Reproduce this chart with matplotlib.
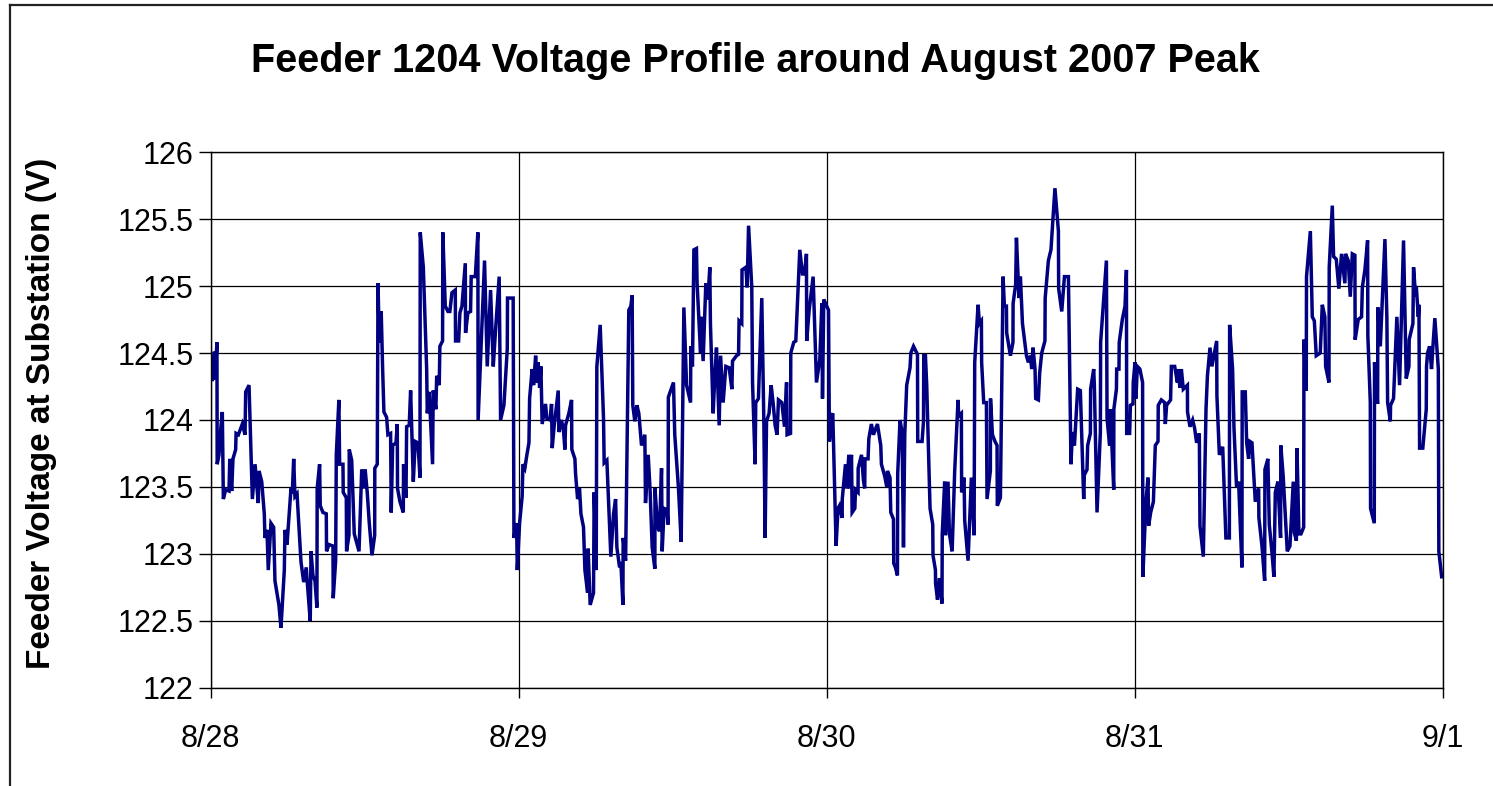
import matplotlib
matplotlib.use("Agg")
import matplotlib.pyplot as plt
from matplotlib.lines import Line2D

# hours since 8/28 00:00 and substation voltage (V)
hours = [
    0.0, 0.14, 0.3, 0.35, 0.5, 0.52, 0.66, 0.82, 0.92, 1.0, 1.18, 1.44, 1.5, 1.65, 1.75, 1.96, 1.99,
    2.17, 2.48, 2.69, 2.74, 2.9, 3.0, 3.26, 3.47, 3.72, 3.78, 3.99, 4.19, 4.24, 4.4, 4.5, 4.71, 4.92,
    5.02, 5.23, 5.33, 5.49, 5.75, 5.8, 5.96, 6.27, 6.37, 6.48, 6.58, 6.74, 7.05, 7.26, 7.46, 7.57,
    7.77, 7.83, 7.98, 8.14, 8.29, 8.31, 8.5, 8.55, 8.76, 9.02, 9.04, 9.23, 9.54, 9.56, 9.75, 9.8,
    10.0, 10.06, 10.32, 10.34, 10.58, 10.6, 10.79, 10.81, 11.0, 11.2, 11.57, 11.78, 11.98,
    12.05, 12.21, 12.37, 12.58, 12.79, 12.8, 12.99, 13.05, 13.15, 13.3, 13.41, 13.51, 13.72, 13.82,
    14.03, 14.08, 14.19, 14.45, 14.55, 14.57, 14.76, 15.02, 15.04, 15.23, 15.28, 15.48, 15.59, 15.8,
    15.95, 16.16, 16.32, 16.34, 16.58, 16.84, 16.89, 17.04, 17.3, 17.35, 17.56, 17.62, 17.82, 17.87,
    18.08, 18.1, 18.29, 18.5, 18.65, 18.81, 19.07, 19.09, 19.33, 19.43, 19.59, 19.85, 19.87, 20.05,
    20.26, 20.31, 20.63, 20.83, 20.85, 21.09, 21.35, 21.56, 21.82, 22.03, 22.18, 22.49, 22.6, 22.86,
    23.12, 23.14, 23.58, 23.64, 23.85, 23.9,
    24.08, 24.28, 24.34, 24.49, 24.65, 24.81, 24.86, 25.06, 25.17, 25.33, 25.43, 25.53, 25.64, 25.74,
    25.84, 26.1, 26.21, 26.46, 26.57, 26.62, 26.78, 27.09, 27.14, 27.35, 27.51, 27.61, 27.66, 27.92,
    28.13, 28.15, 28.39, 28.44, 28.6, 28.75, 28.86, 29.06, 29.17, 29.38, 29.42, 29.58, 29.84, 29.89,
    30.05, 30.1, 30.36, 30.62, 30.67, 30.88, 31.19, 31.4, 31.56, 31.66, 31.87, 31.97, 32.13, 32.15,
    32.34, 32.59, 32.75, 32.85, 32.9, 33.06, 33.22, 33.37, 33.58, 33.84, 33.89, 34.1, 34.25, 34.41,
    34.62, 34.63, 34.83, 34.98, 35.14, 35.19, 35.34, 35.55, 35.65, 35.67, 36.07,
    36.17, 36.46, 36.67, 36.88, 37.09, 37.4, 37.42, 37.55, 37.66, 37.86, 37.91, 38.18, 38.22, 38.38,
    38.59, 38.75, 38.9, 38.95, 39.16, 39.27, 39.42, 39.63, 39.74, 39.94, 40.15, 40.41, 40.62, 40.67,
    40.98, 41.14, 41.18, 41.39, 41.41, 41.71, 41.81, 41.92, 42.17, 42.23, 42.43, 42.48, 42.69, 42.74,
    42.95, 43.11, 43.21, 43.32, 43.52, 43.68, 43.83, 43.99, 44.14, 44.25, 44.51, 44.72, 44.88, 44.92,
    45.19, 45.21, 45.44, 45.6, 45.91, 46.12, 46.28, 46.43, 46.45, 46.64, 46.95, 47.21, 47.47, 47.63,
    47.68, 47.78, 48.15,
    48.22, 48.38, 48.48, 48.74, 48.89, 49.0, 49.21, 49.22, 49.47, 49.57, 49.73, 49.78, 49.94, 49.99,
    50.2, 50.25, 50.45, 50.46, 50.72, 50.87, 50.97, 50.99, 51.23, 51.29, 51.49, 51.65, 51.96, 52.22,
    52.27, 52.53, 52.69, 52.74, 52.94, 53.0, 53.21, 53.23, 53.36, 53.52, 53.54, 53.72, 53.88, 53.99,
    54.09, 54.24, 54.5, 54.56, 54.77, 55.08, 55.1, 55.44, 55.55, 55.57, 55.7, 55.8, 56.06, 56.27,
    56.29, 56.48, 56.49, 56.64, 56.79, 56.99, 57.01, 57.2, 57.26, 57.46, 57.57, 57.78, 57.98, 58.24,
    58.29, 58.5, 58.52, 58.71, 58.76, 59.02, 59.28, 59.49, 59.54, 59.8, 59.91, 60.06, 60.08,
    60.24, 60.45, 60.5, 60.76, 60.77, 60.92, 61.12, 61.28, 61.3, 61.54, 61.75, 61.85, 62.01, 62.03,
    62.32, 62.52, 62.53, 62.73, 62.79, 62.99, 63.1, 63.26, 63.57, 63.72, 63.88, 63.98, 64.08, 64.24,
    64.29, 64.5, 64.6, 64.76, 65.01, 65.03, 65.28, 65.48, 65.79, 66.06, 66.08, 66.32, 66.53, 66.84,
    67.04, 67.15, 67.31, 67.56, 67.77, 68.03, 68.08, 68.29, 68.34, 68.55, 68.57, 68.81, 68.86, 69.07,
    69.33, 69.35, 69.8, 69.85, 70.05, 70.11, 70.37, 70.38, 70.58, 70.6, 70.78, 70.8, 71.04, 71.25,
    71.36, 71.38, 71.61, 71.67, 71.87, 71.89, 72.03,
    72.1, 72.21, 72.41, 72.62, 72.64, 72.88, 73.04, 73.09, 73.25, 73.46, 73.61, 73.82, 73.84, 74.08,
    74.34, 74.39, 74.49, 74.8, 74.86, 75.12, 75.33, 75.37, 75.53, 75.64, 75.79, 76.11, 76.12, 76.31,
    76.52, 76.67, 76.83, 77.04, 77.09, 77.35, 77.56, 77.67, 77.87, 78.02, 78.39, 78.41, 78.6, 78.86,
    79.11, 79.38, 79.4, 79.63, 79.74, 79.94, 80.1, 80.36, 80.38, 80.62, 80.73, 80.88, 80.98, 81.14,
    81.4, 81.66, 81.68, 81.92, 82.13, 82.15, 82.38, 82.49, 82.7, 82.85, 82.96, 83.16, 83.37, 83.39,
    83.58, 83.89, 84.1, 84.36,
    84.44, 84.6, 84.65, 84.8, 84.96, 85.17, 85.19, 85.37, 85.39, 85.69, 85.84, 86.0, 86.15, 86.46,
    86.62, 86.82, 86.88, 87.14, 87.16, 87.4, 87.5, 87.71, 87.91, 88.12, 88.38, 88.43, 88.64, 88.8,
    88.96, 89.16, 89.18, 89.42, 89.68, 89.74, 89.94, 90.15, 90.17, 90.36, 90.38, 90.67, 90.69, 90.93,
    90.95, 91.14, 91.5, 91.65, 91.71, 91.92, 91.94, 92.17, 92.43, 92.64, 92.95, 93.16, 93.37, 93.39,
    93.68, 93.73, 93.89, 93.94, 94.1, 94.15, 94.2, 94.45, 94.72, 94.74, 94.82, 94.98, 95.13, 95.24,
    95.39, 95.66, 95.7, 95.92,
]

volts = [
    124.38, 124.29, 124.51, 124.30, 124.58, 123.67, 123.74, 123.96, 124.06, 123.41, 123.48, 123.47, 123.71, 123.47, 123.71, 123.78, 123.90,
    123.89, 123.97, 123.89, 124.21, 124.24, 124.26, 123.41, 123.67, 123.38, 123.62, 123.54, 123.30, 123.12, 123.18, 122.88, 123.23, 123.20,
    122.80, 122.68, 122.62, 122.45, 122.88, 123.18, 123.07, 123.49, 123.45, 123.71, 123.43, 123.45, 122.94, 122.79, 122.90, 122.75,
    122.50, 123.02, 122.84, 122.80, 122.60, 123.49, 123.67, 123.36, 123.31, 123.30, 123.02, 123.07, 123.06, 122.67, 122.95, 123.74,
    124.15, 123.67, 123.67, 123.46, 123.42, 123.02, 123.14, 123.78, 123.70, 123.15, 123.02, 123.63, 123.49,
    123.63, 123.46, 123.23, 122.99, 123.14, 123.64, 123.67, 125.02, 124.58, 124.81, 124.38, 124.06, 124.02, 123.89,
    123.90, 123.31, 123.81, 123.83, 123.97, 123.49, 123.39, 123.31, 123.67, 123.42, 123.95, 123.96, 124.22, 123.54,
    123.84, 123.83, 123.57, 125.40, 125.14, 124.38, 124.05, 124.21, 123.67, 124.22, 124.08, 124.33, 124.26, 124.55,
    124.59, 125.40, 124.85, 124.81, 124.81, 124.95, 124.97, 124.59, 124.59, 124.80, 124.85, 125.17, 124.65, 124.80,
    124.81, 125.07, 125.07, 125.40, 124.00, 124.58, 125.19, 124.40, 124.97, 124.40, 124.63, 125.07, 124.00, 124.11,
    124.53, 124.91, 124.91, 123.12, 123.23, 122.88,
    123.23, 123.43, 123.67, 123.64, 123.74, 123.83, 124.16, 124.38, 124.26, 124.48, 124.28, 124.43, 124.24, 124.40,
    123.97, 124.12, 124.01, 124.00, 124.12, 123.79, 123.96, 124.22, 123.91, 124.00, 123.91, 123.78, 123.96, 124.05,
    124.15, 123.78, 123.71, 123.60, 123.41, 123.49, 123.30, 123.20, 122.88, 122.71, 123.04, 122.62, 122.71, 123.46,
    122.88, 124.40, 124.71, 124.01, 123.68, 123.70, 122.98, 123.30, 123.41, 123.05, 122.90, 122.94, 122.62, 123.12,
    122.95, 124.82, 124.85, 124.93, 124.11, 123.99, 124.11, 124.05, 123.81, 123.89, 123.38, 123.74, 123.47, 123.05,
    122.89, 123.49, 123.20, 123.17, 123.64, 123.02, 123.34, 123.33, 123.22, 124.17, 124.28,
    123.89, 123.49, 123.09, 124.84, 124.26, 124.13, 124.55, 124.40, 125.27, 125.28, 125.02, 124.50, 124.77, 124.44,
    125.02, 124.90, 125.14, 124.72, 124.05, 124.28, 124.54, 123.96, 124.48, 124.13, 124.40, 124.39, 124.23, 124.44,
    124.48, 124.49, 124.74, 124.72, 125.12, 125.14, 124.99, 125.45, 124.99, 124.28, 123.67, 124.13, 124.16, 124.31,
    124.91, 123.99, 123.12, 123.99, 124.05, 124.26, 124.13, 123.96, 123.89, 124.15, 124.13, 123.95, 124.28, 123.89,
    123.90, 124.50, 124.58, 124.59, 125.27, 125.09, 125.09, 125.24, 124.59, 124.82, 125.07, 124.28, 124.45, 124.87,
    124.16, 124.90, 124.82,
    123.84, 124.03, 124.05, 123.06, 123.34, 123.36, 123.27, 123.41, 123.67, 123.49, 123.74, 123.49, 123.74, 123.31,
    123.34, 123.48, 123.46, 123.64, 123.74, 123.55, 123.49, 123.71, 123.71, 123.86, 123.97, 123.89, 123.97, 123.81,
    123.67, 123.58, 123.50, 123.62, 123.57, 123.31, 123.26, 122.93, 122.90, 122.84, 123.60, 124.00, 123.91, 123.05,
    123.89, 124.26, 124.39, 124.50, 124.55, 124.49, 123.84, 123.84, 123.99, 124.48, 124.48, 124.26, 123.34, 123.22,
    122.99, 122.88, 122.78, 122.66, 122.82, 122.63, 123.15, 123.54, 123.14, 123.54, 123.15, 123.02, 123.62, 124.15,
    124.03, 124.05, 123.46, 123.57, 123.25, 122.95, 123.57, 123.14, 124.43, 124.86, 124.72, 124.74, 124.43,
    124.13, 124.13, 123.41, 123.62, 124.16, 123.89, 123.84, 123.81, 123.36, 123.42, 125.07, 124.85, 124.85, 124.65,
    124.48, 124.58, 124.87, 125.01, 125.36, 124.91, 125.07, 124.72, 124.48, 124.43, 124.48, 124.38, 124.54, 124.38,
    124.16, 124.15, 124.35, 124.50, 124.59, 124.91, 125.19, 125.27, 125.73, 125.41, 124.98, 124.81, 125.07, 125.07,
    123.67, 123.91, 123.81, 124.23, 124.22, 123.41, 123.59, 123.63, 123.81, 123.90, 124.23, 124.38, 124.26, 123.31,
    123.91, 124.58, 125.19, 124.01, 123.81, 124.08, 123.48, 124.08, 124.23, 124.38, 124.38, 124.58, 124.75, 124.85,
    125.12, 123.90, 123.90, 124.11, 124.12, 124.28, 124.43,
    124.16, 124.40, 124.38, 124.28, 122.83, 123.39, 123.57, 123.21, 123.31, 123.39, 123.81, 123.84, 124.11, 124.15,
    124.13, 123.97, 124.11, 124.15, 124.40, 124.40, 124.28, 124.38, 124.24, 124.38, 124.23, 124.26, 124.06, 123.95,
    124.00, 123.94, 123.83, 123.90, 123.21, 122.98, 124.08, 124.33, 124.54, 124.40, 124.59, 124.18, 123.74, 123.80,
    123.12, 123.12, 124.71, 124.38, 123.94, 123.50, 123.54, 122.90, 124.21, 124.21, 123.83, 123.71, 123.84, 123.83,
    123.39, 123.49, 123.27, 123.06, 122.80, 123.63, 123.71, 123.22, 123.01, 122.83, 123.46, 123.54, 123.12, 123.81,
    123.57, 123.02, 123.06, 123.54,
    123.16, 123.10, 123.79, 123.15, 123.15, 123.20, 124.60, 124.22, 125.07, 125.41, 124.77, 124.74, 124.48, 124.50,
    124.86, 124.77, 124.40, 124.28, 125.14, 125.60, 125.22, 125.20, 124.98, 125.24, 125.02, 125.24, 125.19, 124.92,
    125.24, 125.23, 124.60, 124.75, 124.77, 124.99, 125.12, 125.34, 124.63, 124.13, 123.34, 123.23, 124.43, 124.12,
    124.84, 124.55, 125.35, 124.77, 124.13, 123.99, 124.11, 124.16, 124.77, 124.26, 125.34, 124.31, 124.40, 124.60,
    124.72, 125.14, 124.92, 125.00, 124.77, 124.86, 123.79, 123.79, 124.08, 124.40, 124.50, 124.55, 124.38, 124.55,
    124.76, 124.38, 123.02, 122.83,
]

day_ticks = [0, 24, 48, 72, 96]
day_labels = ["8/28", "8/29", "8/30", "8/31", "9/1"]
volt_ticks = [122, 122.5, 123, 123.5, 124, 124.5, 125, 125.5, 126]
volt_labels = ["122", "122.5", "123", "123.5", "124", "124.5", "125", "125.5", "126"]

plt.rcParams["font.family"] = ["Liberation Sans", "DejaVu Sans"]

fig = plt.figure(figsize=(14.93, 7.86), dpi=100)
ax = fig.add_axes([0.1410, 0.1247, 0.8253, 0.6819])

ax.plot(hours, volts, color="#000080", lw=2.5, solid_joinstyle="miter")

ax.set_xlim(0, 96)
ax.set_ylim(122, 126)
ax.set_xticks(day_ticks)
ax.set_xticklabels(day_labels)
ax.set_yticks(volt_ticks)
ax.set_yticklabels(volt_labels)
ax.grid(True, color="black", lw=0.9)
ax.set_axisbelow(True)
for s in ax.spines.values():
    s.set_color("black")
    s.set_linewidth(1.0)
ax.tick_params(axis="y", direction="out", length=9, width=1, pad=3, labelsize=22)
ax.tick_params(axis="x", direction="out", length=7, width=1, pad=19, labelsize=22)

fig.text(0.506, 0.922, "Feeder 1204 Voltage Profile around August 2007 Peak",
         ha="center", va="center", fontsize=28.5, fontweight="bold")
fig.text(0.028, 0.474, "Feeder Voltage at Substation (V)", rotation=90,
         ha="center", va="center", fontsize=24, fontweight="bold")

# outer chart border (runs off the right and bottom of the image)
bx = 10 / 1493
by = 1 - 5 / 786
fig.add_artist(Line2D([bx, 1.0], [by, by], transform=fig.transFigure, color="#222222", lw=1.6))
fig.add_artist(Line2D([bx, bx], [0.0, by], transform=fig.transFigure, color="#222222", lw=1.6))

fig.savefig("out.png", dpi=100)
